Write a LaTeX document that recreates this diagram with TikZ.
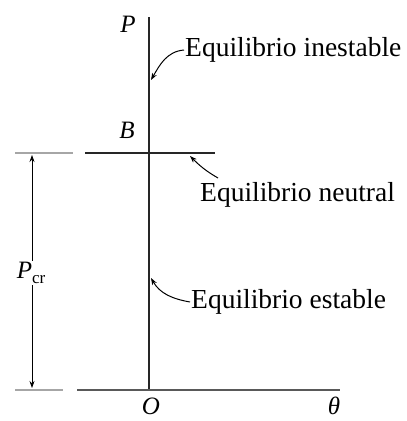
\documentclass[tikz,border=0pt]{standalone}
\usepackage{fontspec}
\setmainfont{Liberation Serif}
\usetikzlibrary{arrows.meta}
\tikzset{
  lbl/.style={inner sep=1pt,font=\fontsize{27.5}{30}\selectfont},
  sym/.style={inner sep=0pt,font=\fontsize{25}{27}\selectfont\itshape},
  pointer/.style={-{Stealth[length=7pt,width=5pt]},line width=1pt},
  dim/.style={{Stealth[length=7pt,width=5pt]}-,line width=0.8pt},
}
\begin{document}
\begin{tikzpicture}[x=1pt,y=-1pt]
    \useasboundingbox (0,0) rectangle (407,421);
    % axes
    \coordinate (Otop) at (149,17);
    \coordinate (O) at (149,390);
    \coordinate (thetaend) at (340,390);
    \draw[line width=2.8pt,black!85] (Otop) -- (O);
    \draw[line width=1.8pt,black!65] (77,390) -- (thetaend);
    \draw[line width=1.8pt,black!35] (15,390) -- (63,390);
    % neutral line
    \coordinate (Bl) at (85,153);
    \coordinate (Br) at (215,153);
    \draw[line width=2.4pt,black!85] (Bl) -- (Br);
    \draw[line width=1.8pt,black!35] (15,153) -- (73,153);
    \node[sym] (Plab) at (128,24) {P};
    \node[sym] (Blab) at (127,130) {B};
    \node[sym] (Olab) at (151,406) {O};
    \node[sym] (thlab) at (334,406) {θ};
    % critical load
    \node[sym,inner sep=1pt,font=\fontsize{25}{26}\selectfont\itshape] (Pcr) at (31,273) {P\raisebox{-0.4ex}{\upshape\fontsize{17}{18}\selectfont cr}};
    \draw[dim] (32,155) -- (Pcr.north -| 32,0);
    \draw[dim] (32,388) -- (Pcr.south -| 32,0);
    % labels
    \node[lbl,anchor=west] (inest) at (184,50) {Equilibrio inestable};
    \node[lbl,anchor=west] (neut) at (199,195) {Equilibrio neutral};
    \node[lbl,anchor=west] (est) at (190,302) {Equilibrio estable};
    \coordinate (c1) at (151,80);
    \coordinate (c2) at (190,156);
    \coordinate (c3) at (151,278);
    \coordinate (n0) at (218,178);
    \draw[pointer] (inest.west) to[out=185,in=60] (c1);
    \draw[pointer] (n0) to[out=150,in=-45] (c2);
    \draw[pointer] (est.west) to[out=170,in=-60] (c3);
\end{tikzpicture}
\end{document}
